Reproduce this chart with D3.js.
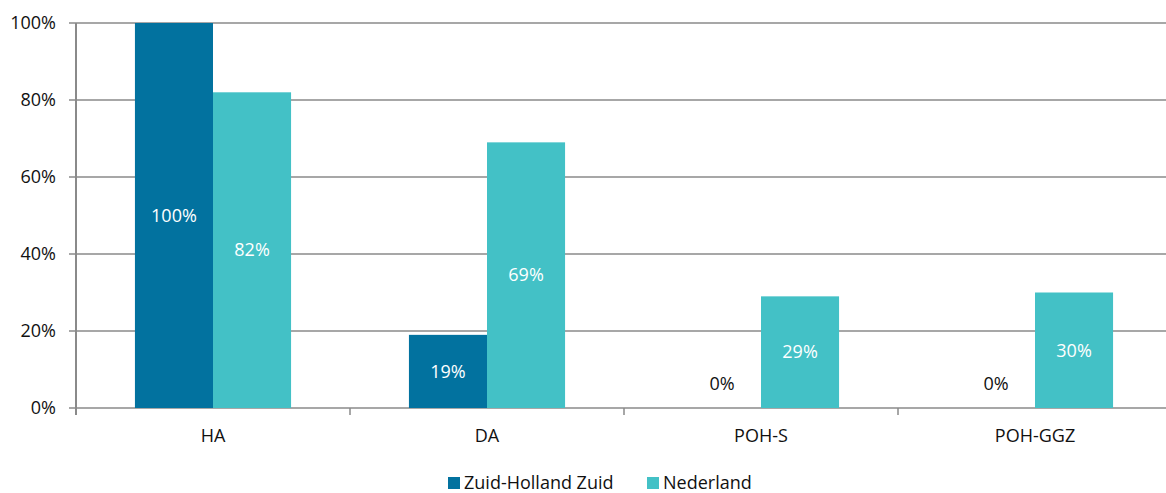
<!DOCTYPE html>
<html>
<head>
<meta charset="utf-8">
<script src="https://cdn.jsdelivr.net/npm/d3@7"></script>
<style>
  body { margin: 0; background: #fff; }
  text { font-family: "Open Sans", "Lato", sans-serif; }
</style>
</head>
<body>
<svg id="chart" width="1166" height="493"></svg>
<script>
var categories = ['HA', 'DA', 'POH-S', 'POH-GGZ']
var seriesNames = ['Zuid-Holland Zuid', 'Nederland']
var zhzValues = [100, 19, 0, 0]
var nlValues = [82, 69, 29, 30]
var yTicks = [0, 20, 40, 60, 80, 100]

var colors = ['#02729F', '#43C1C6']
var svg = d3.select('#chart')
var plotLeft = 76, plotRight = 1172, plotTop = 23, plotBottom = 408
var fs = 18

var x = d3.scaleBand().domain(categories).range([plotLeft, plotRight])
var xInner = d3.scaleBand().domain(seriesNames).range([0, x.bandwidth()]).paddingInner(0).paddingOuter(0.755)
var y = d3.scaleLinear().domain([0, 100]).range([plotBottom, plotTop])

// grid lines
svg.selectAll('.grid')
  .data(yTicks)
  .join('line')
  .attr('class', 'grid')
  .attr('x1', plotLeft - 7)
  .attr('x2', plotRight)
  .attr('y1', d => y(d))
  .attr('y2', d => y(d))
  .attr('stroke', '#8a8a8a')
  .attr('stroke-width', 1.5)

// y tick labels
svg.selectAll('.ylab')
  .data(yTicks)
  .join('text')
  .attr('class', 'ylab')
  .attr('x', 56)
  .attr('y', d => y(d))
  .attr('dy', '0.35em')
  .attr('text-anchor', 'end')
  .attr('font-size', fs)
  .attr('fill', '#111')
  .text(d => d + '%')

var rows = categories.map((c, i) => ({cat: c, vals: [zhzValues[i], nlValues[i]]}))

var groups = svg.selectAll('.grp')
  .data(rows)
  .join('g')
  .attr('class', 'grp')
  .attr('transform', d => `translate(${x(d.cat)},0)`)

groups.selectAll('rect')
  .data(d => d.vals.map((v, j) => ({name: seriesNames[j], v: v, j: j})))
  .join('rect')
  .attr('x', d => xInner(d.name))
  .attr('width', xInner.bandwidth())
  .attr('y', d => y(d.v))
  .attr('height', d => plotBottom - y(d.v))
  .attr('fill', d => colors[d.j])

groups.selectAll('.lab')
  .data(d => d.vals.map((v, j) => ({name: seriesNames[j], v: v, j: j})))
  .join('text')
  .attr('class', 'lab')
  .attr('x', d => xInner(d.name) + xInner.bandwidth() / 2)
  .attr('y', d => d.v > 0 ? (y(d.v) + plotBottom) / 2 : plotBottom - 24)
  .attr('dy', '0.35em')
  .attr('text-anchor', 'middle')
  .attr('font-size', fs)
  .attr('fill', d => d.v > 0 ? '#ffffff' : '#111')
  .text(d => d.v + '%')

// y axis line
svg.append('line')
  .attr('x1', plotLeft).attr('x2', plotLeft)
  .attr('y1', plotTop).attr('y2', plotBottom + 7)
  .attr('stroke', '#8a8a8a')
  .attr('stroke-width', 2)

// x category ticks
svg.selectAll('.xtick')
  .data(categories)
  .join('line')
  .attr('class', 'xtick')
  .attr('x1', d => x(d) + x.bandwidth())
  .attr('x2', d => x(d) + x.bandwidth())
  .attr('y1', plotBottom)
  .attr('y2', plotBottom + 7)
  .attr('stroke', '#8a8a8a')
  .attr('stroke-width', 1.5)

svg.selectAll('.xlab')
  .data(categories)
  .join('text')
  .attr('class', 'xlab')
  .attr('x', d => x(d) + x.bandwidth() / 2)
  .attr('y', 436)
  .attr('dy', '0.35em')
  .attr('text-anchor', 'middle')
  .attr('font-size', fs)
  .attr('fill', '#111')
  .text(d => d)

// legend
var legendX = [448, 647]
var leg = svg.selectAll('.leg')
  .data(seriesNames)
  .join('g')
  .attr('class', 'leg')
  .attr('transform', (d, i) => `translate(${legendX[i]},477)`)
leg.append('rect')
  .attr('width', 12).attr('height', 12)
  .attr('fill', (d, i) => colors[i])
leg.append('text')
  .attr('x', 16)
  .attr('y', 6)
  .attr('dy', '0.35em')
  .attr('font-size', fs)
  .attr('fill', '#111')
  .text(d => d)
</script>
</body>
</html>
